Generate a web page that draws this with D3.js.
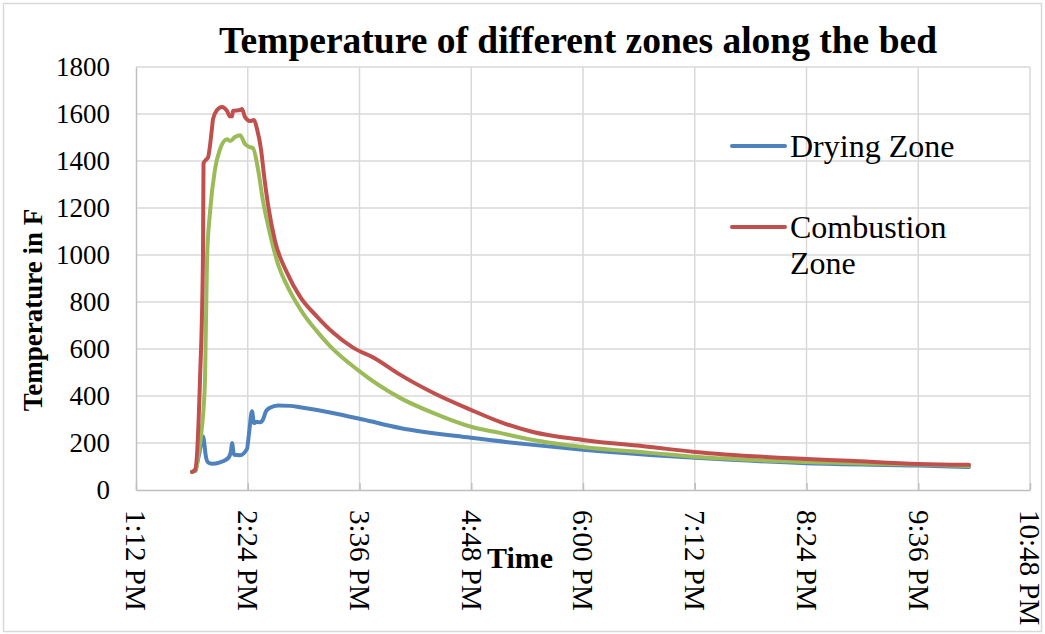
<!DOCTYPE html>
<html>
<head>
<meta charset="utf-8">
<script src="https://cdn.jsdelivr.net/npm/d3@7/dist/d3.min.js"></script>
<style>
  html, body { margin: 0; padding: 0; background: #fff; }
  svg { display: block; font-family: "Liberation Serif", "Times New Roman", serif; }
</style>
</head>
<body>
<svg id="chart" width="1045" height="634"></svg>
<script>
// Bed temperature log (°F) against clock time
const dryingTimes = ["13:48:05","13:50:01","13:52:35","13:55:10","13:57:06","13:58:23","14:00:58","14:06:07",
  "14:11:16","14:13:13","14:13:51","14:15:08","14:19:01","14:23:31","14:24:48","14:26:44","14:28:02","14:29:58",
  "14:31:53","14:33:49","14:35:46","14:38:20","14:43:29","14:51:13","14:57:40","15:17:00","15:38:15","16:02:05",
  "16:47:50","17:27:47","18:00:00","18:43:10","19:12:10","20:24:19","21:35:50","22:08:41"];
const dryingTemps = [77,85,150,228,140,118,112,118,
  135,165,200,150,148,175,240,335,285,290,
  288,300,335,350,360,358,352,330,300,264,
  222,192,171,149,137,114,104,98];

const combustionTimes = ["13:48:05","13:50:01","13:53:14","13:55:10","13:55:30","13:57:06","13:58:23","14:00:58",
  "14:01:37","14:04:11","14:07:25","14:10:38","14:12:34","14:13:51","14:14:30","14:19:01","14:20:18","14:22:14",
  "14:25:27","14:28:02","14:29:58","14:32:32","14:34:28","14:37:03","14:41:34","14:49:17","14:57:40",
  "15:08:37","15:18:56","15:31:49","15:45:59","16:02:05","16:23:21","16:47:50","17:06:31","17:27:47","18:00:00",
  "18:43:10","19:12:10","20:24:19","20:52:01","21:35:50","22:08:41"];
const combustionTemps = [77,85,469,1000,1390,1405,1415,1540,
  1578,1617,1630,1613,1590,1590,1613,1617,1621,1587,
  1570,1574,1536,1450,1340,1215,1060,925,823,
  738,670,606,560,491,414,341,290,247,213,
  183,162,132,124,111,107];

const zone3Times = ["13:48:05","13:50:40","13:51:57","13:54:20","13:56:28","13:57:44","13:59:41","14:02:54",
  "14:06:07","14:10:38","14:12:34","14:15:47","14:19:01","14:22:14","14:25:27","14:27:23","14:30:36","14:33:49",
  "14:38:20","14:42:50","14:51:13","14:59:36","15:08:37","15:17:00","15:35:00","16:02:05","16:23:21","16:47:50",
  "17:06:31","17:27:47","18:00:00","18:43:10","19:12:10","20:24:19","21:35:50","22:08:41"];
const zone3Temps = [77,82,141,256,469,978,1182,1365,
  1450,1493,1485,1502,1510,1472,1459,1455,1365,1230,
  1090,975,845,752,675,612,510,392,328,269,
  243,213,183,158,141,119,108,102];

const yTicks = [0,200,400,600,800,1000,1200,1400,1600,1800];
const xTickTimes = ["13:12","14:24","15:36","16:48","18:00","19:12","20:24","21:36","22:48"];

const legendItems = [
  { label: ["Drying Zone"], color: "#4f81bd" },
  { label: ["Combustion", "Zone"], color: "#c0504d" }
];

const parseTime = s => {
  const p = s.split(":").map(Number);
  return new Date(2000, 0, 1, p[0], p[1], p[2] || 0);
};
const fmtTick = d3.timeFormat("%-I:%M %p");

const svg = d3.select("#chart");
const W = 1045, H = 634;
const plotLeft = 136, plotRight = 1030, plotTop = 67, plotBottom = 490;

// outer frame
svg.append("rect").attr("x", 3.5).attr("y", 3.5).attr("width", W - 7).attr("height", H - 6)
  .attr("fill", "#fff").attr("stroke", "#d9d9d9").attr("stroke-width", 1.5);

const x = d3.scaleTime()
  .domain([parseTime(xTickTimes[0]), parseTime(xTickTimes[xTickTimes.length - 1])])
  .range([plotLeft, plotRight]);
const y = d3.scaleLinear().domain([0, 1800]).range([plotBottom, plotTop]);

// gridlines
const grid = svg.append("g");
grid.selectAll("line.h").data(yTicks.slice(1)).join("line").attr("class", "h")
  .attr("x1", plotLeft).attr("x2", plotRight)
  .attr("y1", d => y(d)).attr("y2", d => y(d))
  .attr("stroke", "#d9d9d9").attr("stroke-width", 1.5);
grid.selectAll("line.v").data(xTickTimes.slice(1)).join("line").attr("class", "v")
  .attr("x1", d => x(parseTime(d))).attr("x2", d => x(parseTime(d)))
  .attr("y1", plotTop).attr("y2", plotBottom)
  .attr("stroke", "#d9d9d9").attr("stroke-width", 1.5);

// y axis
const yAxis = svg.append("g").attr("transform", `translate(${plotLeft},0)`)
  .call(d3.axisLeft(y).tickValues(yTicks).tickSize(0).tickPadding(26).tickFormat(d3.format("d")));
yAxis.select(".domain").attr("stroke", "#bfbfbf").attr("stroke-width", 1.5);
yAxis.selectAll("text").attr("font-size", 27).attr("fill", "#000")
  .attr("font-family", "Liberation Serif, serif");

// x axis
const xAxis = svg.append("g").attr("transform", `translate(0,${plotBottom})`)
  .call(d3.axisBottom(x).tickValues(xTickTimes.map(parseTime)).tickSizeInner(-7).tickSizeOuter(0).tickFormat(fmtTick));
xAxis.select(".domain").attr("stroke", "#bfbfbf").attr("stroke-width", 1.5);
xAxis.selectAll(".tick line").attr("stroke", "#bfbfbf").attr("stroke-width", 1.5);
xAxis.selectAll("text")
  .attr("font-size", 29).attr("fill", "#000").attr("font-family", "Liberation Serif, serif")
  .attr("text-anchor", "start")
  .attr("dy", "0.35em")
  .attr("transform", "translate(0,20) rotate(90)")
  .attr("y", 0).attr("x", 0);

// series
const series = [
  { times: dryingTimes, temps: dryingTemps, color: "#4f81bd" },
  { times: zone3Times, temps: zone3Temps, color: "#9bbb59" },
  { times: combustionTimes, temps: combustionTemps, color: "#c0504d" }
];
const line = d3.line()
  .x(d => x(d[0])).y(d => y(d[1]))
  .curve(d3.curveMonotoneX);
svg.append("g").selectAll("path").data(series).join("path")
  .attr("d", s => line(s.times.map((t, i) => [parseTime(t), s.temps[i]])))
  .attr("fill", "none").attr("stroke", s => s.color)
  .attr("stroke-width", 4).attr("stroke-linejoin", "round").attr("stroke-linecap", "round");

// title and axis titles
svg.append("text").attr("x", 578).attr("y", 53).attr("text-anchor", "middle")
  .attr("font-size", 37.5).attr("font-weight", "bold").text("Temperature of different zones along the bed");
svg.append("text").attr("transform", "translate(42,310) rotate(-90)").attr("text-anchor", "middle")
  .attr("font-size", 27).attr("font-weight", "bold").text("Temperature in F");
svg.append("text").attr("x", 520).attr("y", 568).attr("text-anchor", "middle")
  .attr("font-size", 30).attr("font-weight", "bold").text("Time");

// legend
const lg = svg.append("g");
const legendY = [146, 227];
legendItems.forEach((item, i) => {
  const ly = legendY[i];
  lg.append("line").attr("x1", 732).attr("x2", 785).attr("y1", ly).attr("y2", ly)
    .attr("stroke", item.color).attr("stroke-width", 4).attr("stroke-linecap", "round");
  item.label.forEach((t, j) => {
    lg.append("text").attr("x", 790).attr("y", ly + 11 + j * 36)
      .attr("font-size", 32).attr("fill", "#000").text(t);
  });
});
</script>
</body>
</html>
